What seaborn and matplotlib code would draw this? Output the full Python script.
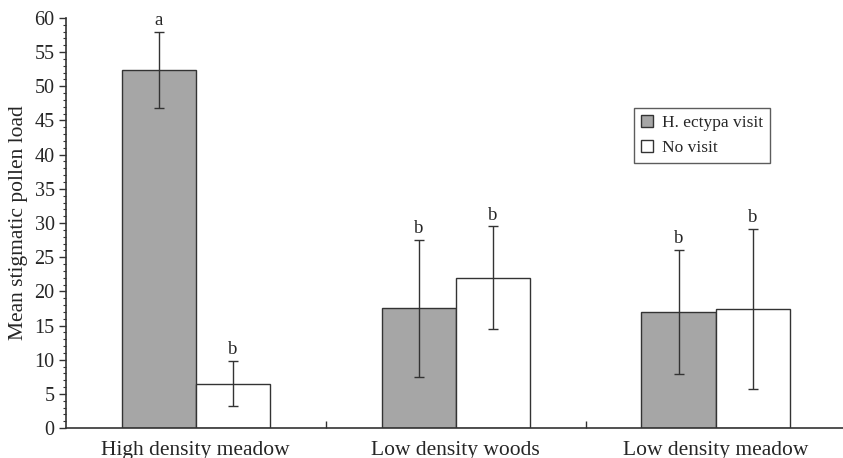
import matplotlib
matplotlib.use("Agg")
import matplotlib.pyplot as plt
import seaborn as sns
import pandas as pd
from matplotlib.ticker import MultipleLocator

sites = ["High density meadow", "Low density woods", "Low density meadow"]
groups = ["H. ectypa visit", "No visit"]
visit_mean = [52.4, 17.5, 17.0]
visit_err = [5.6, 10.0, 9.1]
novisit_mean = [6.5, 22.0, 17.4]
novisit_err = [3.3, 7.5, 11.7]
visit_letters = ["a", "b", "b"]
novisit_letters = ["b", "b", "b"]

df = pd.DataFrame({
    "site": sites * 2,
    "group": [groups[0]] * 3 + [groups[1]] * 3,
    "mean": visit_mean + novisit_mean,
})

sns.set_style("white")
plt.rcParams["font.family"] = ["Liberation Serif", "DejaVu Serif"]

fig = plt.figure(figsize=(8.43, 4.58), dpi=100)
ax = fig.add_axes([0.078, 0.0655, 0.925, 0.8952])

sns.barplot(data=df, x="site", y="mean", hue="group", hue_order=groups,
            palette=["#a6a6a6", "#ffffff"], width=0.57, edgecolor="#333333",
            linewidth=1.0, errorbar=None, ax=ax)

# error bars and significance letters on top of each bar
errs = [visit_err, novisit_err]
letters = [visit_letters, novisit_letters]
for cont, err, lab in zip(ax.containers, errs, letters):
    xs = [p.get_x() + p.get_width() / 2 for p in cont.patches]
    ys = [p.get_height() for p in cont.patches]
    ax.errorbar(xs, ys, yerr=err, fmt="none", ecolor="#333333",
                elinewidth=1.0, capsize=3.5, capthick=1.0)
    for x, y, e, t in zip(xs, ys, err, lab):
        ax.text(x, y + e + 0.4, t, ha="center", va="bottom", fontsize=13.5)

ax.set_xlim(-0.5, 2.5)
ax.set_ylim(0, 60)
ax.yaxis.set_major_locator(MultipleLocator(5))
ax.yaxis.set_minor_locator(MultipleLocator(1))
ax.set_xticks([0.5, 1.5], minor=True)
ax.set_xticks([0, 1, 2])
ax.tick_params(axis="y", which="major", direction="out", length=5, width=1,
               color="#333333", labelsize=14.5, left=True, pad=3)
ax.tick_params(axis="y", which="minor", direction="out", length=2.5,
               width=0.8, color="#333333", left=True)
ax.tick_params(axis="x", which="major", length=0, labelsize=15.5, pad=9)
ax.tick_params(axis="x", which="minor", direction="in", length=5, width=1,
               color="#333333", bottom=True)
ax.set_xlabel("")
ax.set_ylabel("Mean stigmatic pollen load", fontsize=15.5, labelpad=5)
sns.despine(ax=ax)
for s in ["left", "bottom"]:
    ax.spines[s].set_color("#333333")
    ax.spines[s].set_linewidth(1.2)

leg = ax.legend(loc="upper left", bbox_to_anchor=(0.729, 0.78), fontsize=12.5,
                frameon=True, fancybox=False, edgecolor="#333333",
                handlelength=0.7, handleheight=0.7, handletextpad=0.5,
                borderpad=0.4, labelspacing=0.5, borderaxespad=0)
leg.get_frame().set_linewidth(1.0)

fig.savefig("out.png", dpi=100)
